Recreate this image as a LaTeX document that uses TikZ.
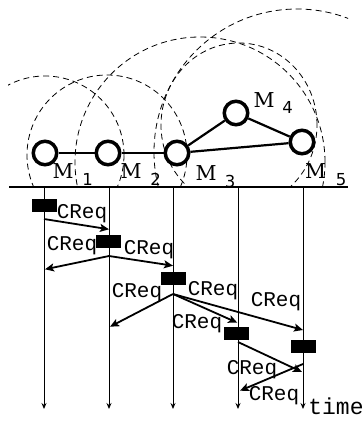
\documentclass[tikz,border=0pt]{standalone}
\usepackage{fontspec}
\setmainfont{DejaVu Serif}
\newfontfamily\monofnt{Liberation Mono}
\newfontfamily\digfnt{DejaVu Sans}
\usetikzlibrary{arrows.meta}
\begin{document}
\begin{tikzpicture}[x=1pt,y=-1pt,
  station/.style={circle,draw,line width=3.5pt,fill=white,minimum size=23.5pt,inner sep=0pt},
  link/.style={line width=2.2pt},
  rangecirc/.style={line width=0.8pt,dash pattern=on 6pt off 4pt},
  msgbox/.style={rectangle,fill=black,minimum width=25pt,minimum height=13pt,inner sep=0pt},
  tline/.style={line width=0.9pt,-{Stealth[length=6pt,width=5pt]}},
  msg/.style={line width=1.8pt,-{Stealth[length=9pt,width=8pt,inset=2pt]}},
  mlab/.style={anchor=base,inner sep=0pt,font=\fontsize{20.5}{20.5}\selectfont},
  dlab/.style={anchor=base,inner sep=0pt,font=\digfnt\fontsize{16.5}{16.5}\selectfont},
  creq/.style={anchor=base,inner sep=0pt,font=\monofnt\fontsize{21}{21}\selectfont},
]
\useasboundingbox (0,0) rectangle (364,421);

% range circles
\begin{scope}
\clip (8,0) rectangle (348,187);
\draw[rangecirc] (45,155) circle[radius=79pt];
\draw[rangecirc] (107,155) circle[radius=80pt];
\draw[rangecirc] (200,162) circle[radius=125pt];
\draw[rangecirc] (297,152) circle[radius=143pt];
\draw[rangecirc] (239,125) ellipse[x radius=78pt, y radius=82pt];
\end{scope}

% baseline
\coordinate (bl) at (9,187);
\coordinate (br) at (348,187);
\draw[line width=1.1pt] (bl) -- (br);

% stations
\node[station] (m1) at (45,153) {};
\node[station] (m2) at (108,153) {};
\node[station] (m3) at (177,153) {};
\node[station] (m4) at (236,113) {};
\node[station] (m5) at (302,142) {};
\draw[link] (m1) -- (m2);
\draw[link] (m2) -- (m3);
\draw[link] (m3) -- (m4);
\draw[link] (m3) -- (m5);
\draw[link] (m4) -- (m5);

% station labels
\node[mlab] (lm1) at (63,178.3) {M};
\node[dlab] (ld1) at (87.5,185) {1};
\node[mlab] (lm2) at (131,178.3) {M};
\node[dlab] (ld2) at (155.5,185) {2};
\node[mlab] (lm3) at (206,180) {M};
\node[dlab] (ld3) at (230,187) {3};
\node[mlab] (lm4) at (264,107) {M};
\node[dlab] (ld4) at (287.5,113) {4};
\node[mlab] (lm5) at (315.5,178.3) {M};
\node[dlab] (ld5) at (341,185) {5};

% time lines
\foreach \i/\x in {1/44,2/109,3/173,4/238,5/303}{
  \coordinate (t\i a) at (\x,187);
  \coordinate (t\i b) at (\x,409);
  \draw[tline] (t\i a) -- (t\i b);
}

% message boxes
\node[msgbox] (r1) at (44.5,205.5) {};
\node[msgbox] (r2) at (108.5,241.5) {};
\node[msgbox] (r3) at (173.5,278) {};
\node[msgbox] (r4) at (236.5,333) {};
\node[msgbox] (r5) at (303,346.5) {};

% message arrows
\coordinate (a1s) at (44,219);   \coordinate (a1e) at (109,229.3);
\coordinate (a2s) at (109,256);  \coordinate (a2l) at (45,269.3); \coordinate (a2r) at (173,265.7);
\coordinate (a3s) at (173,294);  \coordinate (a3l) at (110,326.7); \coordinate (a3m) at (237.3,322.7); \coordinate (a3r) at (303,330);
\coordinate (a4s) at (238,342);  \coordinate (a4e) at (302,372);
\coordinate (a5s) at (303,364);  \coordinate (a5e) at (240,390.7);
\draw[msg] (a1s) -- (a1e);
\draw[msg] (a2s) -- (a2l);
\draw[msg] (a2s) -- (a2r);
\draw[msg] (a3s) -- (a3l);
\draw[msg] (a3s) -- (a3m);
\draw[msg] (a3s) -- (a3r);
\draw[msg] (a4s) -- (a4e);
\draw[msg] (a5s) -- (a5e);

% labels
\node[creq] (c1) at (82,218.3) {CReq};
\node[creq] (c2) at (72,250.7) {CReq};
\node[creq] (c3) at (149,254) {CReq};
\node[creq] (c4) at (137,297.3) {CReq};
\node[creq] (c5) at (213,295) {CReq};
\node[creq] (c6) at (276,306) {CReq};
\node[creq] (c7) at (197,328.3) {CReq};
\node[creq] (c8) at (252,374) {CReq};
\node[creq] (c9) at (274,400.7) {CReq};
\node[anchor=base,inner sep=0pt,font=\monofnt\fontsize{23}{23}\selectfont] (tm) at (336,414.3) {time};
\end{tikzpicture}
\end{document}
